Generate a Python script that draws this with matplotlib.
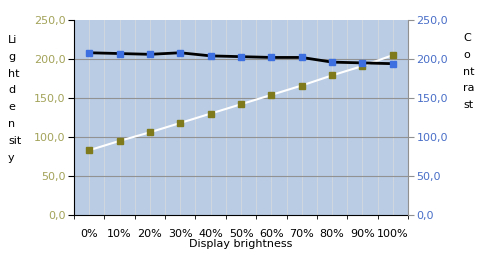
import matplotlib
matplotlib.use("Agg")
import matplotlib.pyplot as plt
import matplotlib.ticker as mticker
import numpy as np

# data
brightness = ["0%", "10%", "20%", "30%", "40%", "50%", "60%", "70%", "80%", "90%", "100%"]
light_density = [83, 95, 106, 118, 130, 142, 154, 166, 179, 191, 205]
contrast = [208, 207, 206, 208, 204, 203, 202, 202, 196, 195, 194]
y_ticks = [0, 50, 100, 150, 200, 250]

BG = "#b9cce4"
LEFT_COL = "#a3a35a"
RIGHT_COL = "#4a6fc8"

fig = plt.figure(figsize=(4.8, 2.56), dpi=100)
ax = fig.add_axes([74 / 480, 1 - 215 / 256, (408 - 74) / 480, (215 - 20) / 256])
ax2 = ax.twinx()

x = np.arange(len(brightness))
ax.set_facecolor(BG)
ax.set_zorder(0)
ax2.set_zorder(1)
ax2.patch.set_visible(False)

# grid: vertical at category centres and boundaries, horizontal at ticks
for xv in np.arange(-0.5, len(brightness), 0.5):
    ax.axvline(xv, color="#cfd6dd", lw=0.8, zorder=0.5)
for yv in y_ticks[1:-1]:
    ax.axhline(yv, color="#929292", lw=0.8, zorder=0.6)

ax.plot(x, light_density, color="white", lw=1.5, marker="s", ms=4,
        mfc="#7f7a1c", mec="#7f7a1c", zorder=3)
ax2.plot(x, contrast, color="black", lw=2, marker="s", ms=4,
         mfc="#3e6fe0", mec="#3e6fe0", zorder=3)

for a in (ax, ax2):
    a.set_xlim(-0.5, len(brightness) - 0.5)
    a.set_ylim(0, 250)
    a.set_yticks(y_ticks)
    a.yaxis.set_major_formatter(mticker.FuncFormatter(lambda v, _: f"{v:.1f}".replace(".", ",")))
    a.spines["top"].set_visible(False)

ax.set_xticks(x)
ax.set_xticklabels(brightness, fontsize=8)
ax.set_xticks(np.arange(-0.5, len(brightness), 1), minor=True)
ax.tick_params(axis="x", which="major", length=0, pad=10)
ax.tick_params(axis="x", which="minor", length=3, color="black")
ax.tick_params(axis="y", labelsize=8, labelcolor=LEFT_COL, length=4, color="black", pad=2)
ax2.tick_params(axis="y", labelsize=8, labelcolor=RIGHT_COL, length=4, color="#909090", pad=2)
ax.spines["right"].set_visible(False)
ax2.spines["left"].set_visible(False)
ax2.spines["bottom"].set_visible(False)
ax2.spines["right"].set_color("#909090")
ax.spines["left"].set_color("black")
ax.spines["bottom"].set_color("black")

ax.set_xlabel("Display brightness", fontsize=8, labelpad=0)

fig.text(8 / 480, 1 - 35 / 256, "Li\ng\nht\nd\ne\nn\nsit\ny", fontsize=8,
         ha="left", va="top", linespacing=1.85)
fig.text(463 / 480, 1 - 33 / 256, "C\no\nnt\nra\nst", fontsize=8,
         ha="left", va="top", linespacing=1.85)

fig.savefig("out.png", dpi=100)
